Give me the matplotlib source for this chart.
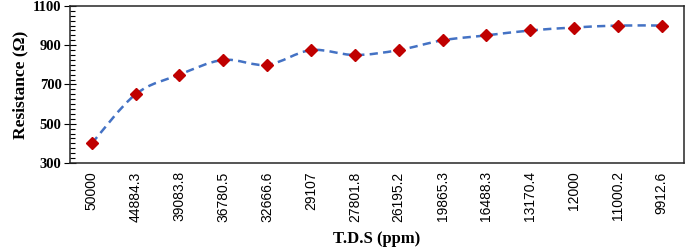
import numpy as np
import matplotlib.pyplot as plt
from matplotlib.path import Path
from matplotlib.patches import PathPatch
from matplotlib.ticker import MultipleLocator

# T.D.S categories and resistance
tds_labels = ["50000", "44884.3", "39083.8", "36780.5", "32666.6", "29107",
              "27801.8", "26195.2", "19865.3", "16488.3", "13170.4", "12000",
              "11000.2", "9912.6"]
resistance = [400, 650, 750, 825, 800, 875, 850, 875, 925, 950, 975, 990, 1000, 1000]
y_ticks = [300, 500, 700, 900, 1100]

x = np.arange(len(tds_labels))
y = np.array(resistance, dtype=float)

fig = plt.figure(figsize=(6.85, 2.47), dpi=100)
ax = fig.add_axes([0.102, 0.34, 0.896, 0.636])

# smoothed dashed line (Excel style), bezier segments through the data points
verts = [(x[0], y[0])]
codes = [Path.MOVETO]
n = len(x)
for i in range(n - 1):
    p0 = np.array([x[max(i - 1, 0)], y[max(i - 1, 0)]])
    p1 = np.array([x[i], y[i]])
    p2 = np.array([x[i + 1], y[i + 1]])
    p3 = np.array([x[min(i + 2, n - 1)], y[min(i + 2, n - 1)]])
    c1 = p1 + (p2 - p0) / 6
    c2 = p2 - (p3 - p1) / 6
    verts += [tuple(c1), tuple(c2), tuple(p2)]
    codes += [Path.CURVE4] * 3
curve = PathPatch(Path(verts, codes), fill=False, edgecolor="#4472C4",
                  linewidth=1.8, linestyle=(0, (3.3, 2.1)), zorder=2)
ax.add_patch(curve)
ax.plot(x, y, linestyle="none", marker="D", markersize=6.5,
        color="#C00000", zorder=3)

ax.set_xlim(-0.5, len(x) - 0.5)
ax.set_ylim(300, 1100)
ax.set_xticks(x)
ax.set_xticklabels(tds_labels, rotation=90, fontsize=10, family="Liberation Sans")
ax.set_yticks(y_ticks)
ax.yaxis.set_minor_locator(MultipleLocator(25))
ax.tick_params(axis="x", length=0, pad=6)
ax.tick_params(axis="y", which="major", direction="inout", length=8, width=0.8,
               labelsize=10.5, pad=2)
ax.tick_params(axis="y", which="minor", direction="in", length=3.5, width=0.8)
for lab in ax.get_yticklabels():
    lab.set_family("Liberation Serif")
    lab.set_fontweight("bold")
for s in ax.spines.values():
    s.set_color("#262626")
    s.set_linewidth(1.1)

ax.set_xlabel("T.D.S (ppm)", family="Liberation Serif", fontweight="bold",
              fontsize=12, labelpad=7)
ax.set_ylabel("Resistance (Ω)", family="Liberation Serif", fontweight="bold",
              fontsize=12.5, labelpad=3)

fig.savefig("out.png", dpi=100)
